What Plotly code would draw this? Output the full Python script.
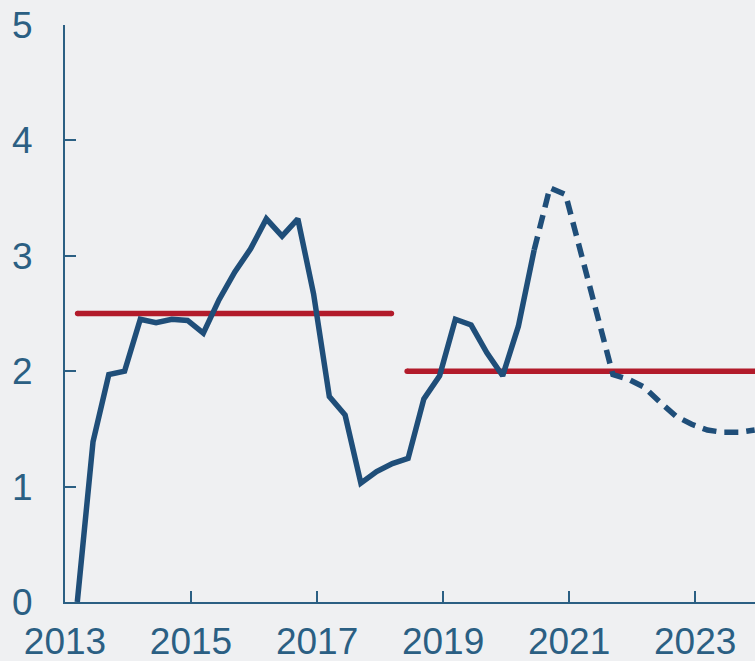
import plotly.graph_objects as go

# Quarterly periods (year, quarter)
quarters = [(y, q) for y in range(2013, 2024) for q in range(1, 5)]

# Actual (solid) values, 2013Q1 .. 2020Q2
actual = [0.00, 1.39, 1.97, 2.00, 2.45, 2.42, 2.45, 2.44, 2.33, 2.62,
          2.86, 3.06, 3.32, 3.17, 3.32, 2.67, 1.78, 1.62, 1.03, 1.13,
          1.20, 1.245, 1.76, 1.96, 2.45, 2.40, 2.16, 1.96, 2.39, 3.05]

# Forecast (dashed) values, 2020Q2 .. 2023Q4
forecast = [3.05, 3.59, 3.53, 3.01, 2.49, 1.97, 1.93, 1.86, 1.73, 1.61,
            1.54, 1.49, 1.47, 1.47, 1.49]

# Target levels (start, end, level)
target1_x = [2013.2, 2018.18]
target1_y = [2.5, 2.5]
target2_x = [2018.43, 2024.2]
target2_y = [2.0, 2.0]

y_ticks = [0, 1, 2, 3, 4, 5]
x_ticks = [2013, 2015, 2017, 2019, 2021, 2023]

def qpos(y, q):
    return y + (q - 1) * 0.25 + 0.195

xs = [qpos(y, q) for (y, q) in quarters]
x_act = xs[:len(actual)]
x_fc = xs[len(actual) - 1:len(actual) - 1 + len(forecast)]

BLUE = "#1f4e79"
RED = "#b21b2b"
AX = "#2b5f83"
BG = "#eff0f2"
LW = 5.5

fig = go.Figure()
fig.add_trace(go.Scatter(x=target1_x, y=target1_y, mode="lines+markers",
                         line=dict(color=RED, width=LW), marker=dict(color=RED, size=LW),
                         hoverinfo="skip", showlegend=False))
fig.add_trace(go.Scatter(x=target2_x, y=target2_y, mode="lines+markers",
                         line=dict(color=RED, width=LW), marker=dict(color=RED, size=LW),
                         hoverinfo="skip", showlegend=False))
fig.add_trace(go.Scatter(x=x_act, y=actual, mode="lines",
                         line=dict(color=BLUE, width=LW), showlegend=False))
fig.add_trace(go.Scatter(x=x_fc, y=forecast, mode="lines",
                         line=dict(color=BLUE, width=LW, dash="14px,8px"), showlegend=False))

fig.update_layout(
    width=755, height=661,
    margin=dict(l=65, r=0, t=25, b=59),
    paper_bgcolor=BG, plot_bgcolor=BG,
    font=dict(family="Liberation Sans, Arial, sans-serif", size=37, color=AX),
    showlegend=False,
)
fig.update_xaxes(range=[2013, 2023.95], tickvals=x_ticks, ticktext=[str(v) for v in x_ticks],
                 ticks="inside", ticklen=11, tickwidth=2, tickcolor=AX, automargin=False,
                 showline=True, linecolor=AX, linewidth=2, showgrid=False, zeroline=False,
                 ticklabelstandoff=6)
fig.update_yaxes(range=[0, 5], tickvals=y_ticks, automargin=False,
                 ticks="inside", ticklen=11, tickwidth=2, tickcolor=AX,
                 showline=True, linecolor=AX, linewidth=2, showgrid=False, zeroline=False,
                 ticklabelstandoff=23)

fig.write_html("out.html", config={"displayModeBar": False},
               post_script="document.body.style.margin='0px';document.body.style.overflow='hidden';")
